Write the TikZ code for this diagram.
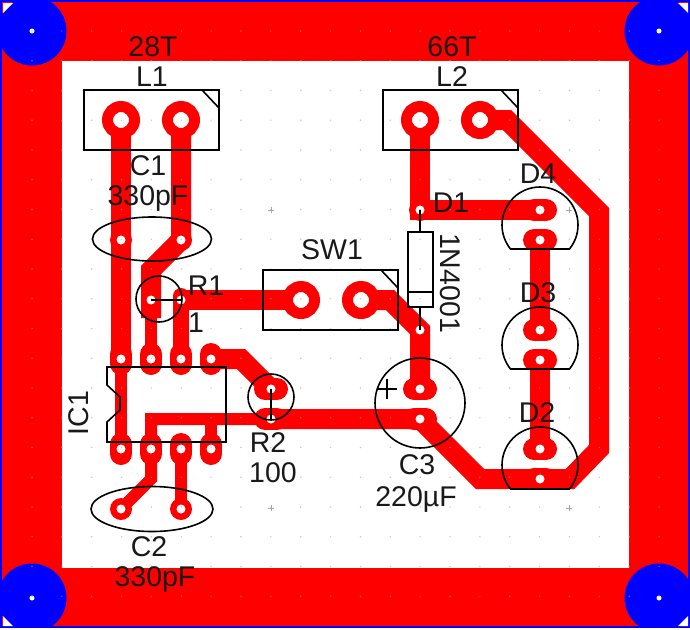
\documentclass[tikz,border=0pt]{standalone}
\usepackage{fontspec}
\setmainfont{Liberation Sans}
\tikzset{
  trace/.style={red,line width=20pt},
  thintrace/.style={red,line width=12pt},
  pinpad/.style={red,line width=22pt,line cap=round},
  bigpad/.style={circle,draw=red,fill=white,line width=11pt,minimum size=27pt,inner sep=0pt,outer sep=0pt},
  smallpad/.style={circle,fill=red,minimum size=22pt,inner sep=0pt,outer sep=0pt},
  hole/.style={circle,fill=white,minimum size=9pt,inner sep=0pt,outer sep=0pt},
  griddot/.style={circle,fill=gray!70,opacity=0.6,minimum size=1.6pt,inner sep=0pt,outer sep=0pt},
  outline/.style={black,line width=1.6pt},
  lbl/.style={font=\fontsize{28.5}{28.5}\selectfont,inner sep=0pt,text=black!90}
}
\begin{document}
\begin{tikzpicture}[x=1pt,y=-1pt]
\useasboundingbox (0,0) rectangle (690,629);
%----board---------------------------------------
\fill[white] (0,0) rectangle (690,629);
\fill[red] (2,2) rectangle (688,627);
\fill[white] (62,61) rectangle (629,568);
\draw[blue,line width=1.5pt] (1,627) -- (1,1) -- (689,1) -- (689,627) -- cycle;
%----pad positions-------------------------------
\foreach \n/\x/\y in {La/121/120,Lb/181/120,Lc/420/120,Ld/480/120,
    Sa/301/300,Sb/361/300,Ca/121/240,Cb/181/240,Cc/121/509,Cd/181/509,
    Ra/151/300,Rb/181/300,Ka/420/210,Kb/420/330,
    Pa/121/359,Pb/151/359,Pc/181/359,Pd/211/359,
    Qa/121/449,Qb/151/449,Qc/181/449,Qd/211/449,
    Ta/271/389,Tb/271/419,Ea/420/389,Eb/420/419,
    Da/540/210,Db/540/240,Dc/540/330,Dd/540/360,De/540/449,Df/540/479}
  \coordinate (\n) at (\x,\y);
\coordinate (bendC) at (151,270);
\coordinate (bendP) at (241,359);
\coordinate (bendQ) at (151,479);
\coordinate (bendS) at (390,300);
\coordinate (bendE) at (480,479);
\coordinate (bendF) at (570,479);
\coordinate (bendG) at (599,449);
\coordinate (bendH) at (599,212);
\coordinate (bendL) at (507,120);
\coordinate (bendU) at (151,419);
\coordinate (bendV) at (211,419);
%----copper--------------------------------------
\draw[trace] (La) -- (121,350);
\draw[trace] (Lb) -- (Cb) -- (bendC) -- (151,318);
\draw[trace] (Lc) -- (Ka) -- (Da);
\draw[trace] (Ld) -- (bendL) -- (bendH) -- (bendG) -- (bendF) -- (bendE) -- (Eb) -- (Tb);
\draw[trace] (Rb) -- (Sa);
\draw[trace] (Sb) -- (bendS) -- (Kb) -- (Ea);
\draw[trace] (Pd) -- (bendP) -- (Ta);
\draw[trace] (Db) -- (Dc);
\draw[trace] (Dd) -- (De);
\draw[thintrace] (121,330) -- (Qa);
\draw[thintrace] (Ra) -- (Pb);
\draw[red,line width=16pt,line cap=round] (Rb) ++(0,-4) -- (Pc);
\draw[thintrace] (Tb) -- (bendU) -- (Qb) -- (bendQ) -- (Cc);
\draw[thintrace] (Qc) -- (Cd);
\draw[thintrace] (bendV) -- (Qd);
%----pads----------------------------------------
\foreach \p in {Pa,Pb,Pc,Pd,Qa,Qb,Qc,Qd}
  \draw[pinpad] (\p) ++(0,-5) -- ++(0,10);
\foreach \p in {Ta,Tb,Ea,Eb,Da,Db,Dc,Dd,De,Df}
  \draw[pinpad] (\p) ++(-6,0) -- ++(12,0);
\foreach \p in {Ca,Cb,Cc,Cd,Ka}
  \node[smallpad] (solid\p) at (\p) {};
\foreach \p in {La,Lb,Lc,Ld,Sa,Sb}
  \node[bigpad] (ring\p) at (\p) {};
\foreach \p in {Ca,Cb,Cc,Cd,Ra,Rb,Ka,Kb,Pa,Pb,Pc,Pd,Qa,Qb,Qc,Qd,Ta,Tb,Ea,Eb,Da,Db,Dc,Dd,De,Df}
  \node[hole] (hole\p) at (\p) {};
%----mounting holes------------------------------
\begin{scope}
\clip (1,1) rectangle (689,627);
\foreach \x/\y in {32/31,659/31,32/598,659/598}
  \fill[blue] (\x,\y) circle (34.5);
\end{scope}
\foreach \n/\x/\y in {mnta/32/31,mntb/659/31,mntc/32/598,mntd/659/598}
  \node[hole,minimum size=5pt] (\n) at (\x,\y) {};
\fill[white] (3,3) -- (13,3) -- (3,13) -- cycle;
\fill[white] (678,3) -- (688,3) -- (688,13) -- cycle;
\fill[white] (3,616) -- (3,626) -- (13,626) -- cycle;
\fill[white] (688,616) -- (688,626) -- (678,626) -- cycle;
%----grid----------------------------------------
\foreach \i in {0,...,21}
  \foreach \j in {0,...,19}
    \node[griddot] (dot\i-\j) at ({32+29.86*\i},{31+29.75*\j}) {};
\foreach \x/\y in {271/210,569/210,271/508,569/508}
  \draw[gray!70,line width=0.5pt] (\x-3,\y) -- (\x+3,\y) (\x,\y-3) -- (\x,\y+3);
%----L1, L2, SW1---------------------------------
\foreach \x in {84,383}{
  \draw[outline] (\x,90) rectangle (\x+135,150);
  \draw[outline] (\x+118,90) -- (\x+135,108);
}
\draw[outline] (263,270) rectangle (398,330);
\draw[outline] (381,270) -- (398,288);
%----C1, C2, C3, R1, R2--------------------------
\draw[outline] (152,239) ellipse (59.5 and 22);
\draw[outline] (152,509) ellipse (61 and 22.5);
\draw[outline] (420,403) circle (45);
\draw[outline] (377,389) -- (397,389) (387,379) -- (387,399);
\draw[outline] (159,299) circle (23);
\draw[outline] (Ra) -- (Rb);
\draw[outline] (271,397) circle (23);
\draw[outline] (Ta) -- (Tb);
%----IC1-----------------------------------------
\draw[outline] (107,367) -- (226,367) -- (226,442) -- (107,442) -- (107,422)
    -- (120,410) -- (120,397) -- (107,385) -- cycle;
%----D1------------------------------------------
\draw[outline] (Ka) -- (420,232) (420,307) -- (Kb);
\draw[outline] (408,232) rectangle (433,307);
\draw[outline] (408,292) -- (433,292);
%----D2, D3, D4----------------------------------
\foreach \y in {225,345,465}
  \draw[outline] (540,\y) ++(39.2:38) arc[start angle=39.2,end angle=-219.2,radius=38] -- cycle;
%----text----------------------------------------
\node[lbl] (t28T) at (153,47) {28T};
\node[lbl] (tL1) at (152,77) {L1};
\node[lbl] (tC1) at (148,166) {C1};
\node[lbl] (tC1v) at (148,199) {330pF};
\node[lbl] (tR1) at (206,286) {R1};
\node[lbl] (tOne) at (196,323) {1};
\node[lbl] (tSW1) at (332,250) {SW1};
\node[lbl,rotate=90] (tIC1) at (79,413) {IC1};
\node[lbl] (tR2) at (268,443) {R2};
\node[lbl] (tR2v) at (273,473) {100};
\node[lbl] (tC2) at (149,547) {C2};
\node[lbl] (tC2v) at (155,579) {330pF};
\node[lbl] (t66T) at (452,47) {66T};
\node[lbl] (tL2) at (452,77) {L2};
\node[lbl] (tD4) at (538,174) {D4};
\node[lbl] (tD1) at (451,203) {D1};
\node[lbl,rotate=-90] (tN) at (450,283) {1N4001};
\node[lbl] (tD3) at (538,293) {D3};
\node[lbl] (tD2) at (537,413) {D2};
\node[lbl] (tC3) at (417,465) {C3};
\node[lbl] (tC3v) at (416,499) {220µF};
\end{tikzpicture}
\end{document}
